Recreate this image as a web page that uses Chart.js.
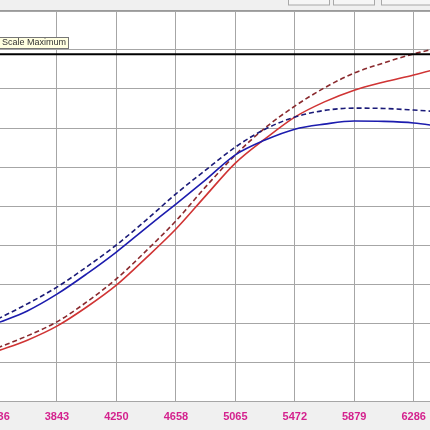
<!DOCTYPE html>
<html>
<head>
<meta charset="utf-8">
<script src="https://cdn.jsdelivr.net/npm/chart.js@4"></script>
<style>
  html, body { margin: 0; padding: 0; background: #f0f0f0; overflow: hidden; }
  canvas { display: block; }
</style>
</head>
<body>
<canvas id="grafica" width="430" height="430"></canvas>
<script>
// =========================
// DATOS
// =========================
const rpm = [3436, 3640, 3843, 4047, 4250, 4454, 4658, 4861, 5065, 5268, 5472, 5675, 5879, 6083, 6286, 6490];

const azulSolido = [20.0, 23.1, 27.4, 32.6, 38.2, 44.4, 50.5, 56.7, 63.1, 66.9, 69.7, 71.0, 71.8, 71.7, 71.3, 70.3];
const azulPunteado = [21.0, 24.9, 29.2, 34.4, 40.0, 46.4, 53.1, 59.2, 65.1, 69.7, 72.8, 74.5, 75.1, 75.0, 74.6, 74.1];
const rojoSolido = [12.8, 15.6, 19.2, 24.1, 29.7, 36.7, 44.1, 52.6, 61.0, 67.2, 72.8, 76.7, 79.7, 81.8, 83.6, 85.6];
const rojoPunteado = [13.6, 16.7, 20.3, 25.4, 31.3, 38.5, 46.2, 54.9, 63.1, 70.0, 75.6, 80.3, 84.1, 86.7, 89.0, 90.8];

const tickValores = [3436, 3843, 4250, 4658, 5065, 5472, 5879, 6286];
const tickEtiquetas = ["3436", "3843", "4250", "4658", "5065", "5472", "5879", "6286"];

const escalaMaxima = 88.9;
const textoMaximo = "Scale Maximum";

const xMin = 3453;
const xMax = 6398;

// =========================
// HELPERS
// =========================
const puntos = (valores) => rpm.map((r, i) => ({ x: r, y: valores[i] }));

function serie(label, valores, color, dash) {
  return {
    label,
    data: puntos(valores),
    borderColor: color,
    borderWidth: 1.6,
    borderDash: dash,
    pointRadius: 0,
    fill: false,
    cubicInterpolationMode: "monotone"
  };
}

// fondo gris, área blanca, barra superior con botones y caja "Scale Maximum"
const marco = {
  id: "marco",
  beforeDraw(chart) {
    const { ctx, chartArea } = chart;
    ctx.save();
    ctx.fillStyle = "#f0f0f0";
    ctx.fillRect(0, 0, chart.width, chart.height);
    ctx.fillStyle = "#ffffff";
    ctx.fillRect(chartArea.left, chartArea.top, chartArea.right - chartArea.left, chartArea.bottom - chartArea.top);

    // botones de la barra superior
    ctx.strokeStyle = "#a8a8a8";
    ctx.lineWidth = 1;
    [[288.5, 41], [333.5, 41], [381.5, 60]].forEach(([x, w]) => {
      ctx.fillStyle = "#f6f6f6";
      ctx.fillRect(x, -2, w, 7);
      ctx.strokeRect(x, -2, w, 7);
    });

    ctx.strokeStyle = "#9a9a9a";
    ctx.beginPath();
    ctx.moveTo(0, 10.5);
    ctx.lineTo(chart.width, 10.5);
    ctx.stroke();
    ctx.restore();
  },
  afterDraw(chart) {
    const { ctx } = chart;
    const y = Math.round(chart.scales.y.getPixelForValue(escalaMaxima));
    ctx.save();
    ctx.font = "9px 'Liberation Sans', Arial, sans-serif";
    const w = ctx.measureText(textoMaximo).width;
    const right = Math.round(w + 4) + 0.5;
    ctx.fillStyle = "#ffffe1";
    ctx.fillRect(-2, y - 17, right + 2, 12);
    ctx.strokeStyle = "#767676";
    ctx.lineWidth = 1;
    ctx.strokeRect(-2, y - 16.5, right + 2, 11);
    ctx.fillStyle = "#333333";
    ctx.textBaseline = "middle";
    ctx.fillText(textoMaximo, 2, y - 11);
    ctx.restore();
  }
};

// =========================
// GRÁFICA
// =========================
const ctx = document.getElementById("grafica").getContext("2d");

new Chart(ctx, {
  type: "line",
  data: {
    datasets: [
      {
        label: "Scale Maximum",
        data: [{ x: xMin, y: escalaMaxima }, { x: xMax, y: escalaMaxima }],
        borderColor: "#000000",
        borderWidth: 2,
        pointRadius: 0
      },
      serie("Azul", azulSolido, "#1c1cae", []),
      serie("Azul ref", azulPunteado, "#1a1a78", [5, 3]),
      serie("Rojo", rojoSolido, "#d03434", []),
      serie("Rojo ref", rojoPunteado, "#8a2a2e", [5, 3])
    ]
  },
  options: {
    responsive: false,
    animation: false,
    layout: { autoPadding: false, padding: { top: 11, left: 0, right: 0, bottom: 0 } },
    plugins: { legend: { display: false }, tooltip: { enabled: false } },
    scales: {
      x: {
        type: "linear",
        min: xMin,
        max: xMax,
        afterBuildTicks: (scale) => {
          scale.ticks = tickValores.map((v) => ({ value: v }));
        },
        afterFit: (scale) => {
          scale.height = 29;
          scale.paddingLeft = 0;
          scale.paddingRight = 0;
        },
        grid: { color: "#a6a6a6", drawTicks: false },
        border: { display: false },
        ticks: {
          autoSkip: false,
          maxRotation: 0,
          padding: 9,
          color: "#d4228e",
          font: { family: "'Liberation Sans', Arial, sans-serif", size: 11, weight: "bold" },
          callback: (value, i) => tickEtiquetas[i]
        }
      },
      y: {
        min: 0,
        max: 100,
        afterFit: (scale) => {
          scale.width = 0;
        },
        grid: { color: "#a6a6a6", drawTicks: false },
        border: { display: false },
        ticks: { display: false, stepSize: 10 }
      }
    }
  },
  plugins: [marco]
});
</script>
</body>
</html>
